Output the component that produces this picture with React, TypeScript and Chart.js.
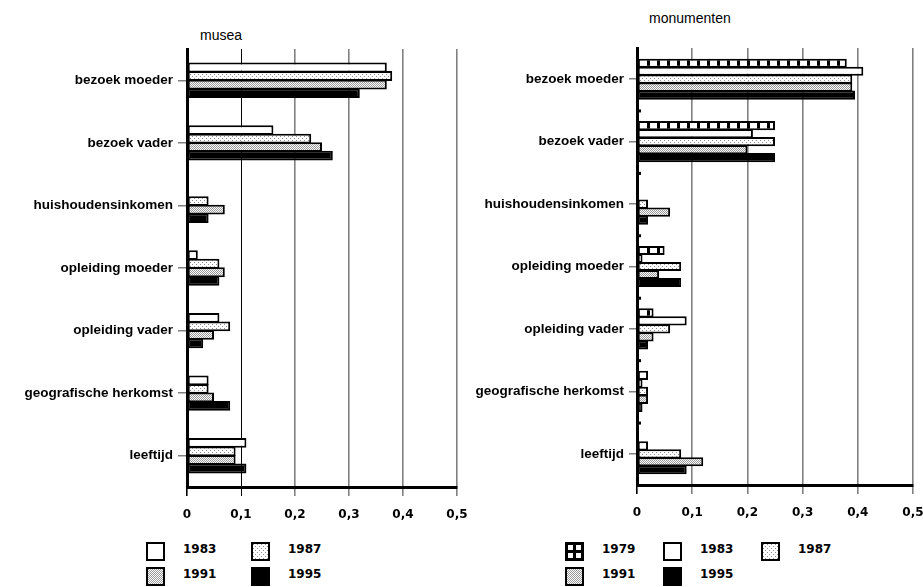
import React, { useEffect, useRef } from "react";
import { Chart, registerables } from "chart.js";
Chart.register(...registerables);

const categories = [
  "bezoek moeder",
  "bezoek vader",
  "huishoudensinkomen",
  "opleiding moeder",
  "opleiding vader",
  "geografische herkomst",
  "leeftijd",
];
const xTickValues = [0, 0.1, 0.2, 0.3, 0.4, 0.5];
const xTickLabels = ["0", "0,1", "0,2", "0,3", "0,4", "0,5"];

// musea
const musea1983 = [0.37, 0.16, 0, 0.02, 0.06, 0.04, 0.11];
const musea1987 = [0.38, 0.23, 0.04, 0.06, 0.08, 0.04, 0.09];
const musea1991 = [0.37, 0.25, 0.07, 0.07, 0.05, 0.05, 0.09];
const musea1995 = [0.32, 0.27, 0.04, 0.06, 0.03, 0.08, 0.11];

// monumenten
const mon1979 = [0.38, 0.25, 0, 0.05, 0.03, 0.02, 0];
const mon1983 = [0.41, 0.21, 0, 0.01, 0.09, 0.01, 0.02];
const mon1987 = [0.39, 0.25, 0.02, 0.08, 0.06, 0.02, 0.08];
const mon1991 = [0.39, 0.2, 0.06, 0.04, 0.03, 0.02, 0.12];
const mon1995 = [0.395, 0.25, 0.02, 0.08, 0.02, 0.01, 0.09];

const CAT_FONT = { family: "'Liberation Sans', Arial, sans-serif", size: 13.5, weight: "bold" as const };
const NUM_FONT = { family: "'DejaVu Sans', sans-serif", size: 12, weight: "bold" as const };

type Kind = "white" | "black" | "light" | "dense" | "stripe";

function makeFill(kind: Kind): CanvasPattern | string {
  if (kind === "black") return "#000";
  if (kind === "white") return "#fff";
  const c = document.createElement("canvas");
  const g = c.getContext("2d")!;
  if (kind === "light") {
    c.width = 4; c.height = 4;
    g.fillStyle = "#fff"; g.fillRect(0, 0, 4, 4);
    g.fillStyle = "#8c8c8c"; g.fillRect(0, 0, 1, 1); g.fillRect(2, 2, 1, 1);
  } else if (kind === "dense") {
    c.width = 2; c.height = 2;
    g.fillStyle = "#fff"; g.fillRect(0, 0, 2, 2);
    g.fillStyle = "#9a9a9a"; g.fillRect(0, 0, 1, 1); g.fillRect(1, 1, 1, 1);
  } else {
    c.width = 10; c.height = 4;
    g.fillStyle = "#fff"; g.fillRect(0, 0, 10, 4);
    g.fillStyle = "#000"; g.fillRect(7, 0, 3, 4);
  }
  return g.createPattern(c, "repeat")!;
}

type Series = { label: string; data: number[]; kind: Kind };

const museaSeries: Series[] = [
  { label: "1983", data: musea1983, kind: "white" },
  { label: "1987", data: musea1987, kind: "light" },
  { label: "1991", data: musea1991, kind: "dense" },
  { label: "1995", data: musea1995, kind: "black" },
];
const monSeries: Series[] = [
  { label: "1979", data: mon1979, kind: "stripe" },
  { label: "1983", data: mon1983, kind: "white" },
  { label: "1987", data: mon1987, kind: "light" },
  { label: "1991", data: mon1991, kind: "dense" },
  { label: "1995", data: mon1995, kind: "black" },
];

const boundaryMarks = {
  id: "boundaryMarks",
  afterDraw(chart: any) {
    const ys = chart.scales.y;
    const ctx = chart.ctx;
    const left = chart.chartArea.left;
    ctx.save();
    ctx.fillStyle = "#000";
    for (let i = 0; i < categories.length - 1; i++) {
      const y = (ys.getPixelForValue(i) + ys.getPixelForValue(i + 1)) / 2;
      ctx.fillRect(left, y - 1, 4, 3);
    }
    ctx.restore();
  },
};

type PanelProps = {
  series: Series[];
  width: number;
  height: number;
  areaLeft: number;
  areaRight: number;
  areaTop: number;
  areaBottom: number;
  catPct: number;
  firstGridBlack: boolean;
  marks: boolean;
  tickLen: number;
};

function Panel(p: PanelProps) {
  const ref = useRef<HTMLCanvasElement>(null);
  useEffect(() => {
    const canvas = ref.current!;
    const chart = new Chart(canvas, {
      type: "bar",
      data: {
        labels: categories,
        datasets: p.series.map((s) => ({
          label: s.label,
          data: s.data,
          backgroundColor: makeFill(s.kind) as any,
          borderColor: "#000",
          borderWidth: 2,
          borderSkipped: false,
          categoryPercentage: p.catPct,
          barPercentage: 1.15,
        })),
      },
      options: {
        indexAxis: "y",
        responsive: false,
        animation: false,
        events: [],
        layout: {
          padding: { top: p.areaTop, right: p.width - p.areaRight, left: 0, bottom: 0 },
        },
        plugins: {
          legend: { display: false },
          tooltip: { enabled: false },
          title: { display: false },
        },
        scales: {
          x: {
            type: "linear",
            min: 0,
            max: 0.5,
            afterBuildTicks: (s: any) => {
              s.ticks = xTickValues.map((v) => ({ value: v }));
            },
            afterFit: (s: any) => {
              s.height = p.height - p.areaBottom;
              s.paddingLeft = 0;
              s.paddingRight = 0;
            },
            ticks: {
              callback: (_v: any, i: number) => xTickLabels[i],
              font: NUM_FONT,
              color: "#000",
              padding: 12,
              maxRotation: 0,
              autoSkip: false,
            },
            grid: {
              color: (c: any) => (c.index === 0 || (p.firstGridBlack && c.index === 1) ? "#000" : "#808080"),
              lineWidth: (c: any) => (p.firstGridBlack && c.index === 1 ? 1 : 1.6),
              tickLength: 9,
            },
            border: { display: true, color: "#000", width: 3 },
          },
          y: {
            afterFit: (s: any) => {
              s.width = p.areaLeft;
              s.paddingTop = 0;
              s.paddingBottom = 0;
            },
            ticks: {
              font: CAT_FONT,
              color: "#000",
              padding: 5,
              autoSkip: false,
            },
            grid: {
              offset: false,
              drawOnChartArea: false,
              tickLength: p.tickLen,
              color: "#808080",
              lineWidth: 1.5,
            },
            border: { display: true, color: "#000", width: 3 },
          },
        },
      },
      plugins: p.marks ? [boundaryMarks] : [],
    } as any);
    return () => chart.destroy();
  }, []);
  return <canvas ref={ref} width={p.width} height={p.height} style={{ display: "block", width: p.width, height: p.height }} />;
}

function Swatch({ kind }: { kind: Kind }) {
  const ref = useRef<HTMLCanvasElement>(null);
  useEffect(() => {
    const c = ref.current!;
    const g = c.getContext("2d")!;
    const s = 19;
    g.clearRect(0, 0, s, s);
    if (kind === "stripe") {
      g.fillStyle = "#000";
      g.fillRect(0, 0, s, s);
      g.fillStyle = "#fff";
      g.fillRect(3, 3, 5, 5);
      g.fillRect(11, 3, 5, 5);
      g.fillRect(3, 11, 5, 5);
      g.fillRect(11, 11, 5, 5);
    } else {
      g.fillStyle = makeFill(kind) as any;
      g.fillRect(0, 0, s, s);
      g.strokeStyle = "#000";
      g.lineWidth = 2;
      g.strokeRect(1, 1, s - 2, s - 2);
    }
  }, [kind]);
  return <canvas ref={ref} width={19} height={19} style={{ display: "block" }} />;
}

function Legend({ series, left, top, colGap, textOffset, cols }: { series: Series[]; left: number; top: number; colGap: number; textOffset: number; cols: number }) {
  return (
    <>
      {series.map((s, i) => {
        const col = i % cols;
        const row = Math.floor(i / cols);
        return (
          <div
            key={s.label + i}
            style={{
              position: "absolute",
              left: left + col * colGap,
              top: top + row * 25,
              height: 19,
            }}
          >
            <Swatch kind={s.kind} />
            <span
              style={{
                position: "absolute",
                left: textOffset,
                top: 0,
                lineHeight: "19px",
                font: "bold 12px 'DejaVu Sans', sans-serif",
                color: "#000",
                whiteSpace: "nowrap",
              }}
            >
              {s.label}
            </span>
          </div>
        );
      })}
    </>
  );
}

export default function App() {
  const titleStyle: React.CSSProperties = {
    position: "absolute",
    font: "14px 'Liberation Sans', Arial, sans-serif",
    color: "#000",
    whiteSpace: "nowrap",
  };
  return (
    <div style={{ position: "absolute", left: 0, top: 0, width: 923, height: 587, background: "#fff", overflow: "hidden" }}>
      <div style={{ ...titleStyle, left: 200, top: 27 }}>musea</div>
      <div style={{ ...titleStyle, left: 649, top: 10 }}>monumenten</div>
      <div style={{ position: "absolute", left: 0, top: 0 }}>
        <Panel
          series={museaSeries}
          width={470}
          height={530}
          areaLeft={187}
          areaRight={457}
          areaTop={49}
          areaBottom={487}
          catPct={0.545}
          firstGridBlack={true}
          marks={false}
          tickLen={9}
        />
      </div>
      <div style={{ position: "absolute", left: 440, top: 0 }}>
        <Panel
          series={monSeries}
          width={483}
          height={530}
          areaLeft={197}
          areaRight={473}
          areaTop={48}
          areaBottom={485}
          catPct={0.64}
          firstGridBlack={false}
          marks={true}
          tickLen={8}
        />
      </div>
      <Legend series={museaSeries} left={146} top={542} colGap={105} textOffset={37} cols={2} />
      <Legend series={monSeries} left={565} top={542} colGap={98} textOffset={37} cols={3} />
    </div>
  );
}
